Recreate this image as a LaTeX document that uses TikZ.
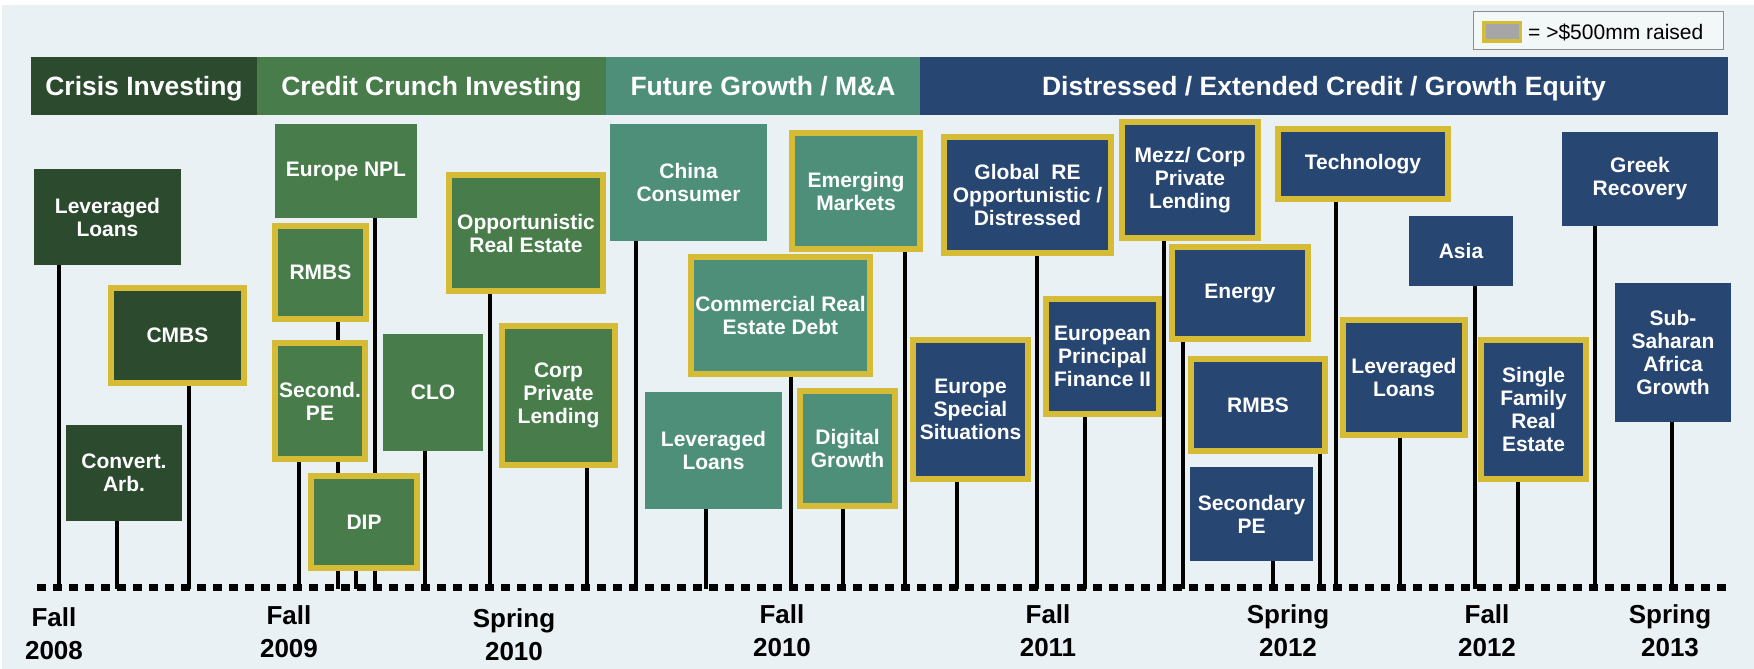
\documentclass[tikz,border=0pt]{standalone}
\usepackage{fontspec}
\setmainfont{Liberation Sans}
\usetikzlibrary{backgrounds}

\definecolor{crisisgreen}{HTML}{2C4A2E}
\definecolor{crunchgreen}{HTML}{487C4A}
\definecolor{growthteal}{HTML}{4E8F7A}
\definecolor{distressblue}{HTML}{274672}
\definecolor{fundgold}{HTML}{D6BC36}
\definecolor{panelbg}{HTML}{E9F1F4}
\definecolor{keygray}{HTML}{A6A6A6}
\definecolor{keyframe}{HTML}{8C8C8C}

\begin{document}
\begin{tikzpicture}[x=1pt, y=-1pt,
  fund/.style={text=white, font=\bfseries\fontsize{21}{23}\selectfont, align=center, inner sep=0pt},
  crisis/.style={fund, fill=crisisgreen},
  crunch/.style={fund, fill=crunchgreen},
  growth/.style={fund, fill=growthteal},
  distress/.style={fund, fill=distressblue},
  big/.style={draw=fundgold, line width=6pt},
  phase/.style={text=white, font=\bfseries\fontsize{26.5}{30}\selectfont, inner sep=0pt,
    minimum height=58, text height=19, text depth=0pt},
  stem/.style={line width=4pt},
  season/.style={font=\bfseries\fontsize{26}{33}\selectfont, align=center, anchor=north, inner sep=0pt}]
  \useasboundingbox (0,0) rectangle (1754,669);
  \begin{scope}[on background layer]
    \fill[white] (0,0) rectangle (1754,669);
    \fill[panelbg] (2,5) rectangle (1754,669);
  \end{scope}

  % Legend
  \node[draw=keyframe, line width=1.5pt, fill=panelbg!60!white, minimum width=250, minimum height=38, inner sep=0pt] (legend) at (1598.5,30.5) {};
  \node[draw=fundgold, line width=3.5pt, fill=keygray, minimum width=36.5, minimum height=18.5, inner sep=0pt] (swatch) at (1502,32) {};
  \node[anchor=base west, inner sep=0pt, font=\fontsize{21}{24}\selectfont] (keytext) at (1528,40) {= >\$500mm raised};

  % Phase bars
  \node[phase, fill=crisisgreen, minimum width=226] (crisis) at (144,86) {Crisis Investing};
  \node[phase, fill=crunchgreen, minimum width=349] (crunch) at (431.5,86) {Credit Crunch Investing};
  \node[phase, fill=growthteal, minimum width=314] (growth) at (763,86) {Future Growth / M\&A};
  \node[phase, fill=distressblue, minimum width=808] (distress) at (1324,86) {Distressed / Extended Credit / Growth Equity};

  % Crisis Investing funds
  \node[crisis, minimum width=147, minimum height=96] (levA) at (107.5,217) {Leveraged\\Loans};
  \node[crisis, big, minimum width=133, minimum height=95] (cmbs) at (177.5,335.5) {CMBS};
  \node[crisis, minimum width=116, minimum height=96] (convarb) at (124,473) {Convert.\\Arb.};

  % Credit Crunch funds
  \node[crunch, minimum width=142, minimum height=94] (npl) at (346,171) {Europe NPL};
  \node[crunch, big, minimum width=91, minimum height=93] (rmbsA) at (320.5,272.5) {RMBS};
  \node[crunch, big, minimum width=90, minimum height=116] (secpe) at (320,401) {Second.\\PE};
  \node[crunch, big, minimum width=106, minimum height=92] (dip) at (364,522) {DIP};
  \node[crunch, minimum width=100, minimum height=117] (clo) at (433,392.5) {CLO};
  \node[crunch, big, minimum width=154, minimum height=116] (ore) at (526,233) {Opportunistic\\Real Estate};
  \node[crunch, big, minimum width=113, minimum height=139] (cpl) at (558.5,395.5) {Corp\\Private\\Lending};

  % Future Growth funds
  \node[growth, minimum width=157, minimum height=117] (china) at (688.5,182.5) {China\\Consumer};
  \node[growth, big, minimum width=179, minimum height=117] (cred) at (780.5,315.5) {Commercial Real\\Estate Debt};
  \node[growth, big, minimum width=128, minimum height=116] (em) at (856,191) {Emerging\\Markets};
  \node[growth, minimum width=137, minimum height=117] (levB) at (713.5,450.5) {Leveraged\\Loans};
  \node[growth, big, minimum width=95, minimum height=115] (digital) at (847.5,448.5) {Digital\\Growth};

  % Distressed funds
  \node[distress, big, minimum width=167, minimum height=116] (globalre) at (1027.5,195) {Global\ \ RE\\Opportunistic /\\Distressed};
  \node[distress, big, minimum width=115, minimum height=139] (ess) at (970.5,409.5) {Europe\\Special\\Situations};
  \node[distress, big, minimum width=136, minimum height=116] (mezz) at (1190,180) {Mezz/ Corp\\Private\\Lending};
  \node[distress, big, minimum width=113, minimum height=115] (epf) at (1102.5,356.5) {European\\Principal\\Finance II};
  \node[distress, big, minimum width=136, minimum height=92] (energy) at (1240,293) {Energy};
  \node[distress, big, minimum width=134, minimum height=92] (rmbsB) at (1258,405) {RMBS};
  \node[distress, minimum width=123, minimum height=94] (secpeB) at (1251.5,514) {Secondary\\PE};
  \node[distress, big, minimum width=170, minimum height=70] (tech) at (1363,164) {Technology};
  \node[distress, big, minimum width=122, minimum height=115] (levC) at (1404,377.5) {Leveraged\\Loans};
  \node[distress, minimum width=104, minimum height=70] (asia) at (1461,251) {Asia};
  \node[distress, big, minimum width=105, minimum height=139] (sfre) at (1533.5,409.5) {Single\\Family\\Real\\Estate};
  \node[distress, minimum width=156, minimum height=94] (greek) at (1640,179) {Greek\\Recovery};
  \node[distress, minimum width=116, minimum height=139] (ssa) at (1673,352.5) {Sub-\\Saharan\\Africa\\Growth};

  % Stems down to the timeline
  \coordinate (tl) at (0,589);
  \begin{scope}[on background layer]
    \draw[stem] (58.5,0 |- levA.south) -- (58.5,0 |- tl);
    \draw[stem] (188.5,0 |- cmbs.south) -- (188.5,0 |- tl);
    \draw[stem] (117,0 |- convarb.south) -- (117,0 |- tl);
    \draw[stem] (375,0 |- npl.south) -- (375,0 |- tl);
    \draw[stem] (338,0 |- rmbsA.south) -- (338,0 |- tl);
    \draw[stem] (298.5,0 |- secpe.south) -- (298.5,0 |- tl);
    \draw[stem] (356,0 |- dip.south) -- (356,0 |- tl);
    \draw[stem] (424.5,0 |- clo.south) -- (424.5,0 |- tl);
    \draw[stem] (490,0 |- ore.south) -- (490,0 |- tl);
    \draw[stem] (587,0 |- cpl.south) -- (587,0 |- tl);
    \draw[stem] (636,0 |- china.south) -- (636,0 |- tl);
    \draw[stem] (790.5,0 |- cred.south) -- (790.5,0 |- tl);
    \draw[stem] (905,0 |- em.south) -- (905,0 |- tl);
    \draw[stem] (706,0 |- levB.south) -- (706,0 |- tl);
    \draw[stem] (843,0 |- digital.south) -- (843,0 |- tl);
    \draw[stem] (1037,0 |- globalre.south) -- (1037,0 |- tl);
    \draw[stem] (956.5,0 |- ess.south) -- (956.5,0 |- tl);
    \draw[stem] (1164,0 |- mezz.south) -- (1164,0 |- tl);
    \draw[stem] (1085,0 |- epf.south) -- (1085,0 |- tl);
    \draw[stem] (1183,0 |- energy.south) -- (1183,0 |- tl);
    \draw[stem] (1320,0 |- rmbsB.south) -- (1320,0 |- tl);
    \draw[stem] (1273,0 |- secpeB.south) -- (1273,0 |- tl);
    \draw[stem] (1336,0 |- tech.south) -- (1336,0 |- tl);
    \draw[stem] (1399.5,0 |- levC.south) -- (1399.5,0 |- tl);
    \draw[stem] (1475,0 |- asia.south) -- (1475,0 |- tl);
    \draw[stem] (1517.5,0 |- sfre.south) -- (1517.5,0 |- tl);
    \draw[stem] (1595,0 |- greek.south) -- (1595,0 |- tl);
    \draw[stem] (1672,0 |- ssa.south) -- (1672,0 |- tl);
    % Timeline
    \draw[line width=7pt, dash pattern=on 8.5pt off 7.5pt] (37,587) -- (1727,587);
  \end{scope}

  % Season labels
  \node[season] (fall08) at (54,607) {Fall\\2008};
  \node[season] (fall09) at (289,605) {Fall\\2009};
  \node[season] (spr10) at (514,608) {Spring\\2010};
  \node[season] (fall10) at (782,604) {Fall\\2010};
  \node[season] (fall11) at (1048,604) {Fall\\2011};
  \node[season] (spr12) at (1288,604) {Spring\\2012};
  \node[season] (fall12) at (1487,604) {Fall\\2012};
  \node[season] (spr13) at (1670,604) {Spring\\2013};
\end{tikzpicture}
\end{document}
